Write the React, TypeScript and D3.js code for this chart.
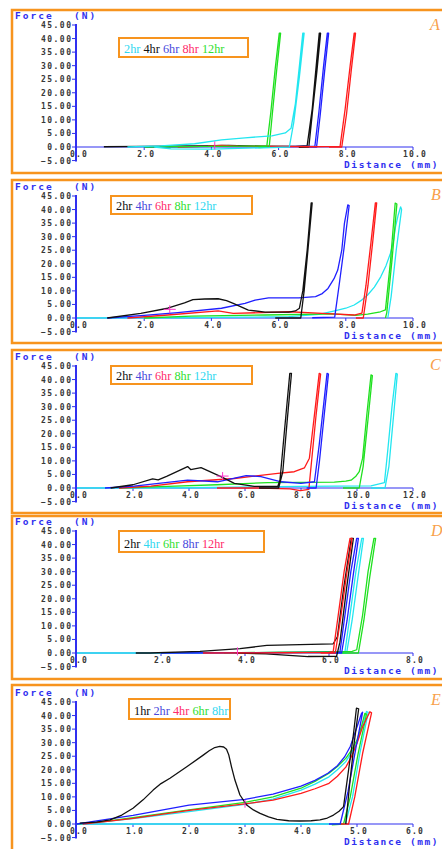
import React, { useRef, useEffect } from "react";
import * as d3 from "d3";

type Pt = [number, number];

// Panel A: distance (mm) vs force (N)
const legendA = ["2hr", "4hr", "6hr", "8hr", "12hr"];
const a2hr: Pt[] = [[1.5, 0], [2.5, 0.4], [3.5, 1.2], [4.3, 2.6], [5.0, 3.4], [5.8, 4.1], [6.2, 5.2], [6.37, 6.9], [6.5, 16], [6.62, 30], [6.72, 42], [6.76, 42], [6.62, 26], [6.45, 9], [6.32, 0], [5.5, -0.3], [4.0, -0.8], [2.8, -0.7], [2.3, 0]];
const a4hr: Pt[] = [[0.8, 0.1], [2.0, 0.2], [3.5, 0.4], [4.5, 0.6], [5.5, 0.3], [6.5, 0.2], [6.85, 0.5], [7.0, 14], [7.12, 30], [7.21, 42], [7.25, 42], [7.14, 28], [7.0, 12], [6.9, 0], [6.6, -0.1]];
const a6hr: Pt[] = [[2.0, 0], [4.0, 0.2], [6.0, 0.1], [7.08, 0.3], [7.2, 13], [7.34, 30], [7.45, 42], [7.49, 42], [7.37, 28], [7.24, 12], [7.13, 0], [6.9, 0]];
const a8hr: Pt[] = [[3.0, 0], [3.9, 0.3], [4.3, 0.6], [4.8, 0.3], [6.0, 0.2], [7.0, 0.1], [7.83, 0.2], [7.98, 14], [8.13, 30], [8.25, 42], [8.29, 42], [8.16, 28], [8.02, 12], [7.88, 0], [7.5, 0]];
const a12hr: Pt[] = [[2.0, 0], [4.0, 0.2], [5.0, 0.3], [5.65, 0.4], [5.77, 13], [5.9, 29], [6.02, 42], [6.06, 42], [5.94, 28], [5.82, 13], [5.72, 0], [5.4, -0.2]];
const markA: Pt = [4.1, 0.6];

// Panel B
const legendB = ["2hr", "4hr", "6hr", "8hr", "12hr"];
const b2hr: Pt[] = [[0.9, 0], [1.9, 1.7], [2.7, 3.6], [3.2, 5.6], [3.45, 6.8], [3.8, 7.0], [4.2, 7.1], [4.45, 6.4], [4.65, 5.4], [5.1, 2.9], [5.6, 2.2], [6.3, 2.2], [6.5, 2.6], [6.62, 3.6], [6.72, 10], [6.85, 25], [6.97, 42.5], [7.0, 42.5], [6.88, 26], [6.76, 10], [6.66, 0], [5.9, 0]];
const b4hr: Pt[] = [[0.9, 0], [2.0, 1.0], [3.0, 2.0], [4.3, 3.6], [5.0, 5.4], [5.3, 6.6], [5.7, 7.4], [6.6, 7.4], [7.1, 7.9], [7.3, 9.0], [7.47, 10.9], [7.65, 14.5], [7.76, 17.7], [7.88, 25], [7.96, 35], [8.06, 41.7], [8.1, 41.5], [7.95, 26], [7.8, 12], [7.67, 0.3], [7.0, 0.1]];
const b6hr: Pt[] = [[1.5, 0], [2.7, 1.1], [4.2, 2.6], [4.65, 1.7], [5.5, 2.0], [6.3, 2.3], [7.3, 1.7], [8.25, 1.1], [8.48, 1.8], [8.6, 12], [8.75, 28], [8.88, 42.5], [8.92, 42.5], [8.8, 28], [8.66, 12], [8.52, 0], [8.3, 0]];
const b8hr: Pt[] = [[2.0, 0], [3.4, 0.7], [5.6, 1.1], [7.6, 1.5], [8.3, 1.0], [8.65, 1.4], [9.03, 2.3], [9.18, 3.0], [9.33, 21], [9.47, 42.4], [9.52, 42], [9.38, 22], [9.22, 2], [9.18, 0]];
const b12hr: Pt[] = [[0, 0], [3.0, 0.1], [5.0, 0.3], [6.3, 0.5], [7.2, 1.3], [7.67, 2.6], [8.0, 3.6], [8.25, 4.8], [8.45, 6.4], [8.65, 8.5], [8.85, 11.4], [9.04, 15.2], [9.2, 19.4], [9.33, 23.9], [9.42, 28.5], [9.48, 33.7], [9.56, 38], [9.63, 41], [9.66, 40], [9.5, 25], [9.35, 8], [9.25, 0]];
const markB: Pt = [2.76, 3.2];

// Panel C
const legendC = ["2hr", "4hr", "6hr", "8hr", "12hr"];
const c2hr: Pt[] = [[1.2, 0], [2.0, 1.2], [2.7, 3.4], [2.9, 3.0], [3.2, 4.3], [3.95, 7.9], [4.06, 6.8], [4.43, 7.5], [5.14, 4.2], [5.62, 1.7], [6.33, 0.6], [7.17, 0.6], [7.25, 3], [7.4, 20], [7.6, 42.3], [7.66, 42.3], [7.5, 24], [7.35, 6], [7.2, 0], [6.5, 0]];
const c4hr: Pt[] = [[1.0, 0], [2.04, 0.7], [3.95, 2.9], [5.02, 2.3], [6.04, 4.6], [6.57, 4.2], [7.29, 2.3], [8.0, 1.7], [8.48, 2.3], [8.65, 15.9], [8.8, 30], [8.93, 42.3], [8.98, 42], [8.82, 26], [8.66, 10], [8.54, 0], [8.2, 0]];
const c6hr: Pt[] = [[1.5, 0], [2.64, 0.7], [3.95, 2.3], [5.62, 3.5], [7.17, 5.4], [7.76, 6.0], [8.12, 7.4], [8.3, 11], [8.48, 27], [8.65, 42.3], [8.7, 42], [8.53, 26], [8.36, 8], [8.28, -0.5], [7.98, -1.0], [7.6, -0.3], [6.5, 0], [5.0, 0]];
const c8hr: Pt[] = [[1.5, 0], [3.24, 0.6], [5.0, 1.2], [6.81, 2.0], [9.19, 2.2], [9.6, 2.5], [9.79, 2.9], [9.95, 4.2], [10.08, 6.0], [10.2, 11], [10.35, 27], [10.5, 41.7], [10.55, 41.5], [10.4, 26], [10.22, 8], [10.08, 0], [9.5, 0]];
const c12hr: Pt[] = [[0, 0], [4.0, 0.1], [8.0, 0.6], [10.5, 0.8], [10.98, 2.0], [11.1, 14], [11.25, 30], [11.39, 42.3], [11.44, 42], [11.3, 26], [11.14, 8], [11.0, 0], [10.5, 0]];
const markC: Pt = [5.2, 4.4];

// Panel D
const legendD = ["2hr", "4hr", "6hr", "8hr", "12hr"];
const d2hr: Pt[] = [[1.4, 0], [1.74, 0], [2.93, 0.6], [3.88, 1.6], [4.52, 2.8], [6.1, 3.4], [6.2, 6], [6.35, 24], [6.53, 42.3], [6.58, 42.3], [6.42, 24], [6.26, 4], [6.18, -1.2], [5.5, -1.3], [4.5, -0.3], [3.8, 0]];
const d4hr: Pt[] = [[0, 0], [2.0, 0], [4.0, 0.1], [6.0, 0.2], [6.38, 0.4], [6.5, 14], [6.64, 30], [6.78, 42.3], [6.82, 42.3], [6.69, 28], [6.55, 12], [6.42, 0], [6.1, 0]];
const d6hr: Pt[] = [[3.5, 0], [4.8, 0.3], [6.0, 0.5], [6.55, 0.6], [6.66, 1.2], [6.8, 14], [6.93, 30], [7.07, 42.3], [7.11, 42.3], [6.97, 28], [6.83, 12], [6.7, 0], [6.3, 0]];
const d8hr: Pt[] = [[2.0, 0], [4.0, 0.1], [5.5, 0.2], [6.26, 0.3], [6.38, 14], [6.52, 30], [6.66, 42.3], [6.7, 42.3], [6.57, 28], [6.43, 12], [6.3, 0], [6.0, 0]];
const d12hr: Pt[] = [[3.0, 0], [5.0, 0.1], [6.0, 0.2], [6.1, 0.5], [6.22, 14], [6.36, 30], [6.5, 42.3], [6.55, 42.3], [6.41, 28], [6.27, 12], [6.15, 0], [5.8, 0]];
const markD: Pt = [3.82, 0.6];

// Panel E
const legendE = ["1hr", "2hr", "4hr", "6hr", "8hr"];
const e1hr: Pt[] = [[0.05, 0.3], [0.35, 0.7], [0.59, 1.5], [0.8, 3.3], [1.0, 5.8], [1.18, 8.9], [1.36, 12.5], [1.5, 14.9], [1.66, 16.9], [1.96, 21.1], [2.26, 25.5], [2.36, 27.0], [2.46, 28.2], [2.55, 28.6], [2.62, 28.4], [2.67, 27.6], [2.71, 25.5], [2.76, 21.0], [2.82, 16.2], [2.91, 10.7], [3.03, 7.0], [3.15, 5.2], [3.27, 3.9], [3.42, 2.6], [3.57, 1.7], [3.78, 1.2], [3.98, 1.1], [4.18, 1.2], [4.34, 1.5], [4.47, 2.2], [4.58, 3.3], [4.68, 4.7], [4.76, 6.4], [4.85, 20], [4.93, 32], [4.99, 42.7], [5.03, 42.5], [4.95, 30], [4.87, 15], [4.8, 0]];
const e2hr: Pt[] = [[0, 0], [0.5, 1.6], [1.0, 3.2], [2.0, 7.0], [3.0, 9.1], [3.5, 11], [4.0, 14], [4.25, 16.1], [4.48, 18.7], [4.65, 21.5], [4.78, 24.8], [4.88, 28.6], [4.96, 33.4], [5.03, 37.6], [5.08, 40.8], [5.1, 41.2], [4.98, 28], [4.84, 12], [4.7, 0], [4.5, 0]];
const e4hr: Pt[] = [[0.1, 0], [0.5, 0.9], [1.0, 2.1], [2.0, 5.0], [3.0, 7.4], [3.5, 8.8], [4.0, 11.3], [4.25, 13.0], [4.5, 15], [4.65, 17.6], [4.8, 21], [4.9, 24.8], [5.0, 29.8], [5.1, 35.9], [5.23, 41.4], [5.26, 41], [5.1, 26], [4.96, 10], [4.85, 0], [4.7, 0]];
const e6hr: Pt[] = [[0, 0], [0.5, 1.0], [1.0, 2.3], [2.0, 5.2], [3.0, 8.0], [3.5, 10], [4.0, 13.2], [4.25, 15.7], [4.5, 18.7], [4.65, 21.2], [4.8, 24.2], [4.9, 27.2], [5.0, 31], [5.08, 36], [5.14, 40.8], [5.17, 40.5], [5.02, 26], [4.88, 10], [4.76, 0], [4.55, -0.3]];
const e8hr: Pt[] = [[0, 0], [0.5, 0.9], [1.0, 2.0], [2.0, 4.6], [3.0, 7.2], [3.5, 9.2], [4.0, 12.5], [4.25, 14.7], [4.5, 17.4], [4.65, 20], [4.8, 23], [4.9, 26.3], [5.0, 30], [5.1, 36.4], [5.17, 41.5], [5.2, 41.2], [5.05, 26], [4.92, 10], [4.79, 0], [4.0, 0], [0, 0]];
const markE: Pt = [3.0, 7.5];

const forceTicks = d3.range(-5, 46, 5);

// colours
const ORANGE = "#f7941e";
const AXIS = "#3030f0";
const BLACK = "#111111";
const BLUE = "#1f1fff";
const RED = "#ff1a1a";
const GREEN = "#1fe01f";
const CYAN = "#22e6f0";
const MAGENTA = "#ff33cc";
const legBlack = "#111111";
const legBlue = "#4848dc";
const legRed = "#ff2a6a";
const legGreen = "#2fe02f";
const legCyan = "#2fd8f0";

const layout = [
  { box: 10, h: 163, zero: 147, leg: [119, 38, 129, 19], tag: "A", tagX: 430, markW: 0 },
  { box: 180, h: 163, zero: 318, leg: [111, 196, 141, 18], tag: "B", tagX: 431, markW: 6 },
  { box: 350, h: 163, zero: 488, leg: [111, 366, 141, 18], tag: "C", tagX: 430, markW: 6 },
  { box: 516, h: 163, zero: 653, leg: [119, 531, 145, 21], tag: "D", tagX: 431, markW: 0 },
  { box: 685, h: 180, zero: 824, leg: [129, 699, 101, 20], tag: "E", tagX: 431, markW: 0 },
];

const panels = [
  { xMax: 10, step: 2, series: [a4hr, a6hr, a8hr, a12hr, a2hr], colors: [BLACK, BLUE, RED, GREEN, CYAN], legend: legendA, legendColors: [legCyan, legBlack, legBlue, legRed, legGreen], mark: markA },
  { xMax: 10, step: 2, series: [b12hr, b8hr, b6hr, b4hr, b2hr], colors: [CYAN, GREEN, RED, BLUE, BLACK], legend: legendB, legendColors: [legBlack, legBlue, legRed, legGreen, legCyan], mark: markB },
  { xMax: 12, step: 2, series: [c12hr, c8hr, c6hr, c4hr, c2hr], colors: [CYAN, GREEN, RED, BLUE, BLACK], legend: legendC, legendColors: [legBlack, legBlue, legRed, legGreen, legCyan], mark: markC },
  { xMax: 8, step: 2, series: [d4hr, d6hr, d8hr, d2hr, d12hr], colors: [CYAN, GREEN, BLUE, BLACK, RED], legend: legendD, legendColors: [legBlack, legCyan, legGreen, legBlue, legRed], mark: markD },
  { xMax: 6, step: 1, series: [e8hr, e6hr, e4hr, e2hr, e1hr], colors: [CYAN, GREEN, RED, BLUE, BLACK], legend: legendE, legendColors: [legBlack, legBlue, legRed, legGreen, legCyan], mark: markE },
];

const MONO = "'DejaVu Sans Mono', monospace";
const SERIF = "'Liberation Serif', 'Times New Roman', serif";

export default function App() {
  const ref = useRef<SVGSVGElement | null>(null);

  useEffect(() => {
    const svg = d3.select(ref.current);
    svg.selectAll("*").remove();
    const fmtY = d3.format(".2f");
    const fmtX = d3.format(".1f");

    panels.forEach((p, i) => {
      const L = layout[i];
      const x = d3.scaleLinear().domain([0, p.xMax]).range([77, 413]);
      const y = d3.scaleLinear().domain([0, 45]).range([L.zero, L.zero - 122]);
      const g = svg.append("g");

      // orange frame (right edge runs off the page)
      g.append("rect")
        .attr("x", 12).attr("y", L.box)
        .attr("width", 470).attr("height", L.h)
        .attr("fill", "none").attr("stroke", ORANGE).attr("stroke-width", 2.5);

      // y axis
      g.append("line")
        .attr("x1", 76).attr("x2", 76)
        .attr("y1", y(45) - 1).attr("y2", y(-5) + 1)
        .attr("stroke", AXIS).attr("stroke-width", 2);
      g.selectAll(".yt").data(forceTicks).enter().append("line")
        .attr("x1", 72).attr("x2", 76)
        .attr("y1", (d) => y(d)).attr("y2", (d) => y(d))
        .attr("stroke", AXIS).attr("stroke-width", 1);
      g.selectAll(".yl").data(forceTicks).enter().append("text")
        .attr("x", 72.5).attr("y", (d) => y(d) + 3)
        .attr("text-anchor", "end")
        .style("font-family", MONO).style("font-size", "8px").style("font-weight", "bold")
        .style("letter-spacing", "1.5px").style("fill", "#383838")
        .text((d) => fmtY(d));

      // x axis
      const xTicks = d3.range(0, p.xMax + 0.001, p.step);
      g.append("line")
        .attr("x1", 76).attr("x2", x(p.xMax))
        .attr("y1", y(0)).attr("y2", y(0))
        .attr("stroke", AXIS).attr("stroke-width", 1.2);
      g.selectAll(".xt").data(xTicks.slice(1)).enter().append("line")
        .attr("x1", (d) => x(d)).attr("x2", (d) => x(d))
        .attr("y1", y(0)).attr("y2", y(0) + 3)
        .attr("stroke", AXIS).attr("stroke-width", 1);
      g.selectAll(".xl").data(xTicks).enter().append("text")
        .attr("x", (d) => x(d) + 2).attr("y", y(0) + 9.5)
        .attr("text-anchor", "middle")
        .style("font-family", MONO).style("font-size", "8px").style("font-weight", "bold")
        .style("letter-spacing", "1.2px").style("fill", "#383838")
        .text((d) => fmtX(d));

      // curves (straight segments between the read points)
      const line = d3.line<Pt>().x((d) => x(d[0])).y((d) => y(d[1]));
      p.series.forEach((s, k) => {
        g.append("path")
          .attr("d", line(s))
          .attr("fill", "none")
          .attr("stroke", p.colors[k])
          .attr("stroke-width", 1.3)
          .attr("stroke-linejoin", "round");
      });

      // marker
      const mx = x(p.mark[0]);
      const my = y(p.mark[1]);
      g.append("line").attr("x1", mx).attr("x2", mx).attr("y1", my - 4).attr("y2", my + 4)
        .attr("stroke", MAGENTA).attr("stroke-width", 1);
      if (L.markW > 0) {
        g.append("line").attr("x1", mx - L.markW).attr("x2", mx + L.markW).attr("y1", my).attr("y2", my)
          .attr("stroke", MAGENTA).attr("stroke-width", 1);
      }

      // axis titles
      const title = g.append("g")
        .style("font-family", MONO).style("font-size", "9.5px").style("font-weight", "bold")
        .style("fill", AXIS);
      title.append("text").attr("x", 15).attr("y", L.zero - 128).style("letter-spacing", "2px").text("Force");
      title.append("text").attr("x", 74).attr("y", L.zero - 128).style("letter-spacing", "2px").text("(N)");
      title.append("text").attr("x", 344).attr("y", L.zero + 21).style("letter-spacing", "1.6px").text("Distance (mm)");

      // legend box
      const [lx, ly, lw, lh] = L.leg;
      g.append("rect")
        .attr("x", lx).attr("y", ly).attr("width", lw).attr("height", lh)
        .attr("fill", "none").attr("stroke", ORANGE).attr("stroke-width", 2);
      const lt = g.append("text")
        .attr("x", lx + 5).attr("y", ly + lh - 4.5)
        .style("font-family", SERIF).style("font-size", "12.3px");
      p.legend.forEach((name, k) => {
        lt.append("tspan")
          .style("fill", p.legendColors[k])
          .text(k < p.legend.length - 1 ? name + " " : name);
      });

      // panel letter
      g.append("text")
        .attr("x", L.tagX).attr("y", L.box + 20)
        .style("font-family", SERIF).style("font-size", "16px").style("font-style", "italic")
        .style("fill", "#f8a04a")
        .text(L.tag);
    });
  }, []);

  return (
    <div style={{ position: "absolute", left: 0, top: 0 }}>
      <svg ref={ref} width={442} height={849} style={{ display: "block", background: "#fff" }} />
    </div>
  );
}
